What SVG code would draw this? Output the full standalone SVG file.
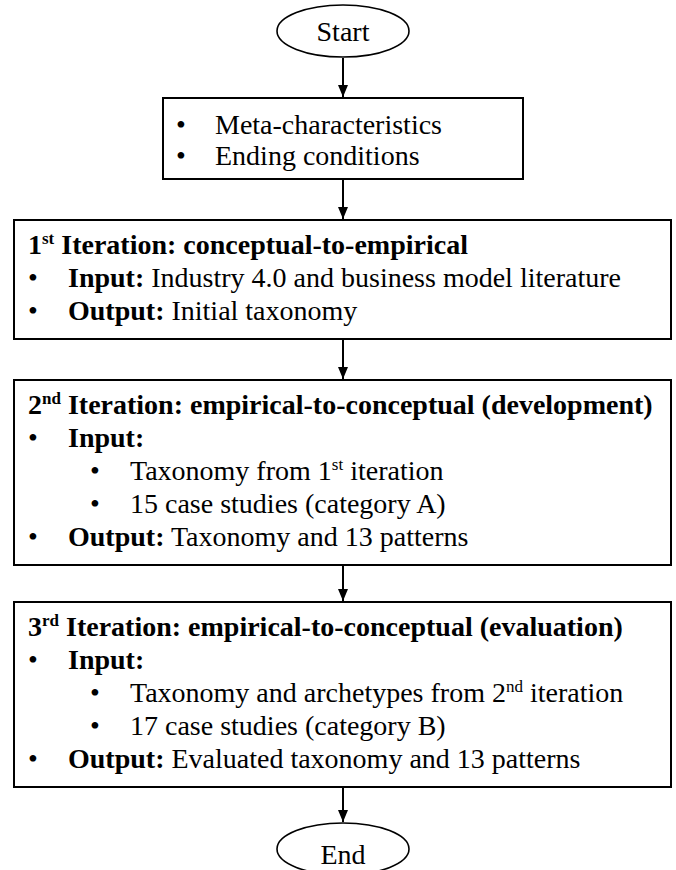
<svg xmlns="http://www.w3.org/2000/svg" width="676" height="870" viewBox="0 0 676 870">
<defs>
<style>
.box{fill:#fff;stroke:#000;stroke-width:2}
.term{fill:#fff;stroke:#000;stroke-width:1.6}
.t{font-size:28px;fill:#000}
.b{font-weight:bold}
.c{stroke:#000;stroke-width:2;fill:none;marker-end:url(#ah)}
</style>
<marker id="ah" markerWidth="12" markerHeight="10" refX="12" refY="5" orient="auto" markerUnits="userSpaceOnUse" viewBox="0 0 12 10">
<path d="M0,0 L12,5 L0,10 Z" fill="#000"/>
</marker>
</defs>
<rect width="676" height="870" fill="#fff"/>
<g id="connectors">
<line class="c" x1="343" y1="58" x2="343" y2="97"/>
<line class="c" x1="343" y1="179" x2="343" y2="219"/>
<line class="c" x1="343" y1="339" x2="343" y2="379"/>
<line class="c" x1="343" y1="565" x2="343" y2="601"/>
<line class="c" x1="343" y1="787" x2="343" y2="822"/>
</g>
<g font-family="'Liberation Serif', 'Times New Roman', 'DejaVu Serif', serif">
<g id="start">
<ellipse class="term" cx="343" cy="31" rx="66" ry="26"/>
<text class="t" x="343" y="41" text-anchor="middle">Start</text>
</g>
<g id="setup">
<rect class="box" x="163" y="98" width="360" height="81"/>
<text class="t" x="176" y="134">•</text>
<text class="t" x="215" y="134">Meta-characteristics</text>
<text class="t" x="176" y="165">•</text>
<text class="t" x="215" y="165">Ending conditions</text>
</g>
<g id="iter1">
<rect class="box" x="14" y="220" width="657" height="119"/>
<text class="t b" x="28" y="254">1<tspan font-size="17" dy="-10">st</tspan><tspan dy="10"> Iteration: conceptual-to-empirical</tspan></text>
<text class="t" x="28" y="287">•</text>
<text class="t" x="68" y="287"><tspan class="b">Input:</tspan> Industry 4.0 and business model literature</text>
<text class="t" x="28" y="320">•</text>
<text class="t" x="68" y="320"><tspan class="b">Output:</tspan> Initial taxonomy</text>
</g>
<g id="iter2">
<rect class="box" x="14" y="380" width="657" height="185"/>
<text class="t b" x="28" y="414">2<tspan font-size="17" dy="-10">nd</tspan><tspan dy="10"> Iteration: empirical-to-conceptual (development)</tspan></text>
<text class="t" x="28" y="447">•</text>
<text class="t b" x="68" y="447">Input:</text>
<text class="t" x="90" y="480">•</text>
<text class="t" x="130" y="480">Taxonomy from 1<tspan font-size="17" dy="-10">st</tspan><tspan dy="10"> iteration</tspan></text>
<text class="t" x="90" y="513">•</text>
<text class="t" x="130" y="513">15 case studies (category A)</text>
<text class="t" x="28" y="546">•</text>
<text class="t" x="68" y="546"><tspan class="b">Output:</tspan> Taxonomy and 13 patterns</text>
</g>
<g id="iter3">
<rect class="box" x="14" y="602" width="657" height="185"/>
<text class="t b" x="28" y="636">3<tspan font-size="17" dy="-10">rd</tspan><tspan dy="10"> Iteration: empirical-to-conceptual (evaluation)</tspan></text>
<text class="t" x="28" y="669">•</text>
<text class="t b" x="68" y="669">Input:</text>
<text class="t" x="90" y="702">•</text>
<text class="t" x="130" y="702">Taxonomy and archetypes from 2<tspan font-size="17" dy="-10">nd</tspan><tspan dy="10"> iteration</tspan></text>
<text class="t" x="90" y="735">•</text>
<text class="t" x="130" y="735">17 case studies (category B)</text>
<text class="t" x="28" y="768">•</text>
<text class="t" x="68" y="768"><tspan class="b">Output:</tspan> Evaluated taxonomy and 13 patterns</text>
</g>
<g id="end">
<ellipse class="term" cx="343" cy="849" rx="66" ry="26"/>
<text class="t" x="343" y="864" text-anchor="middle">End</text>
</g>
</g>
</svg>
